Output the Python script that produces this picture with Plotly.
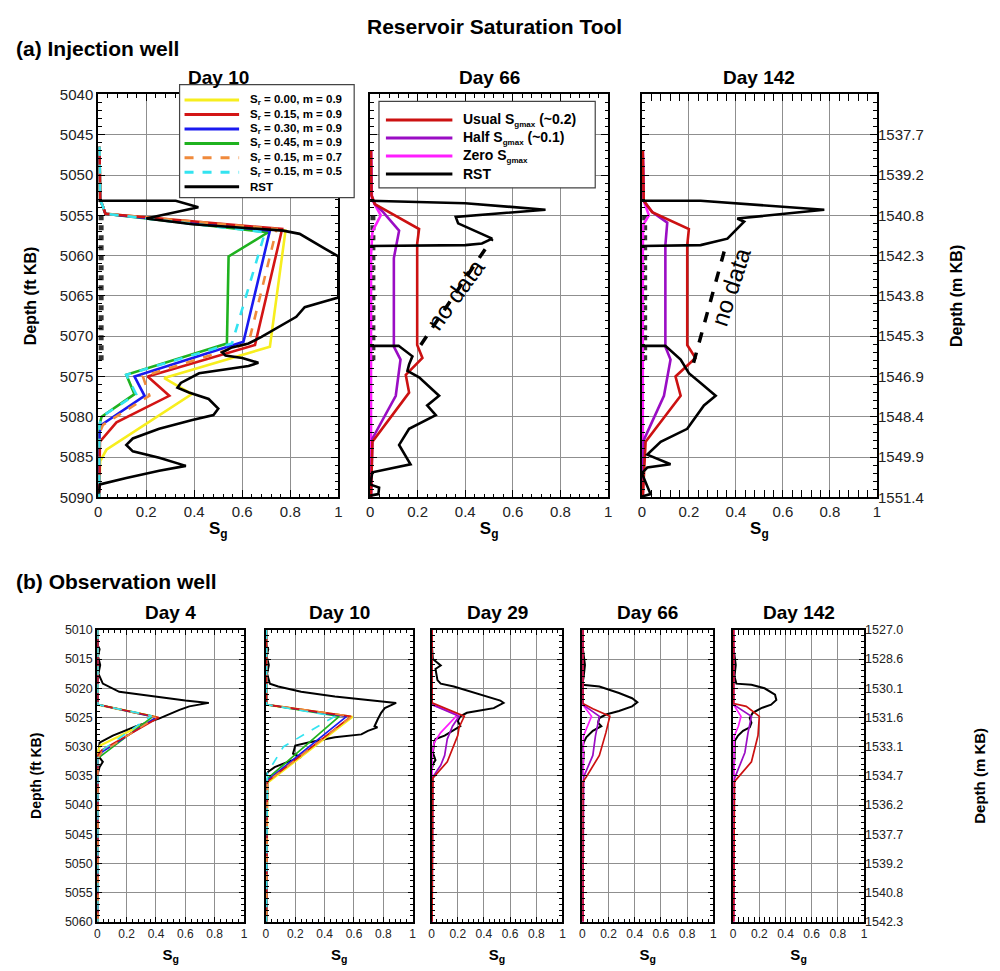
import plotly.graph_objects as go

# ---------------------------------------------------------------- data
# Injection well, Day 10: simulated Sg profiles for residual gas / m cases and RST log
inj_d10_yellow_sg = [0.005, 0.008, 0.03, 0.78, 0.715, 0.275, 0.39, 0.034, 0.008, 0.004]
inj_d10_yellow_dp = [5046.5, 5053.0, 5054.8, 5056.9, 5071.3, 5075.2, 5077.2, 5084.1, 5085.5, 5090]
inj_d10_red_sg = [0.005, 0.008, 0.03, 0.766, 0.653, 0.206, 0.296, 0.076, 0.007, 0.004]
inj_d10_red_dp = [5046.5, 5053.0, 5054.8, 5056.7, 5071.1, 5075.0, 5077.4, 5080.7, 5083.1, 5090]
inj_d10_blue_sg = [0.005, 0.008, 0.03, 0.715, 0.605, 0.151, 0.193, 0.014, 0.005, 0.004]
inj_d10_blue_dp = [5046.5, 5053.0, 5054.8, 5056.9, 5070.7, 5075.0, 5077.4, 5081.0, 5082.0, 5090]
inj_d10_green_sg = [0.005, 0.008, 0.03, 0.708, 0.543, 0.536, 0.117, 0.151, 0.014, 0.005, 0.004]
inj_d10_green_dp = [5046.5, 5053.0, 5054.8, 5057.1, 5060.1, 5070.9, 5074.8, 5077.2, 5080.0, 5081.0, 5090]
inj_d10_orange_sg = [0.005, 0.008, 0.03, 0.743, 0.626, 0.186, 0.213, 0.02, 0.005, 0.004]
inj_d10_orange_dp = [5046.5, 5053.0, 5054.8, 5056.7, 5070.9, 5075.0, 5077.4, 5081.0, 5082.0, 5090]
inj_d10_cyan_sg = [0.005, 0.008, 0.03, 0.695, 0.557, 0.117, 0.158, 0.014, 0.005, 0.004]
inj_d10_cyan_dp = [5046.5, 5053.0, 5054.8, 5057.1, 5070.9, 5074.8, 5077.2, 5080.0, 5081.0, 5090]
inj_d10_rst_sg = [0.0, 0.323, 0.417, 0.323, 0.2, 0.392, 0.77, 0.839, 0.887, 0.942, 1.0, 1.0, 0.942,
                  0.86, 0.825, 0.75, 0.68, 0.626, 0.557, 0.516, 0.53, 0.6, 0.667, 0.626, 0.53, 0.42,
                  0.344, 0.33, 0.378, 0.46, 0.5, 0.48, 0.392, 0.254, 0.144, 0.117, 0.144, 0.254,
                  0.365, 0.254, 0.117, 0.007, 0.0]
inj_d10_rst_dp = [5053.2, 5053.2, 5054.0, 5054.6, 5055.4, 5056.1, 5056.9, 5057.3, 5058.1, 5059.1,
                  5060.1, 5065.2, 5065.7, 5066.4, 5067.6, 5068.9, 5070.1, 5070.9, 5071.4, 5072.0,
                  5072.4, 5072.7, 5073.3, 5073.7, 5074.1, 5074.6, 5075.8, 5076.4, 5077.0, 5077.8,
                  5079.0, 5079.8, 5080.4, 5081.5, 5082.7, 5083.5, 5084.3, 5085.1, 5086.1, 5086.7,
                  5087.6, 5088.4, 5089.6]

# Injection well, Day 66: hysteresis cases and RST log (None = logging gap)
inj_d66_usual_sg = [0.004, 0.006, 0.02, 0.094, 0.206, 0.198, 0.198, 0.22, 0.15, 0.164, 0.01, 0.004]
inj_d66_usual_dp = [5047, 5052.5, 5053.6, 5054.8, 5056.7, 5058.5, 5071.1, 5072.7, 5074.8, 5077.0, 5083.1, 5090]
inj_d66_half_sg = [0.004, 0.006, 0.02, 0.055, 0.122, 0.1, 0.1, 0.128, 0.108, 0.01, 0.004]
inj_d66_half_dp = [5047, 5052.5, 5053.6, 5054.6, 5056.9, 5060.3, 5071.3, 5072.9, 5077.4, 5082.7, 5090]
inj_d66_zero_sg = [0.004, 0.008, 0.045, 0.01, 0.004, 0.004]
inj_d66_zero_dp = [5047, 5053.0, 5055.0, 5057.0, 5060, 5090]
inj_d66_rst_sg = [0.0, 0.4, 0.737, 0.36, 0.37, 0.513, 0.47, 0.4, 0.0, None,
                  0.0, 0.12, 0.178, 0.164, 0.157, 0.206, 0.29, 0.24, 0.276, 0.164, 0.122, 0.17,
                  0.01, 0.0, 0.038, 0.035, 0.0]
inj_d66_rst_dp = [5053.2, 5053.5, 5054.3, 5055.2, 5056.0, 5057.9, 5058.5, 5058.7, 5058.8, None,
                  5071.2, 5071.2, 5072.5, 5073.5, 5074.3, 5075.1, 5077.4, 5078.6, 5079.8, 5081.5,
                  5083.5, 5085.9, 5086.9, 5088.4, 5088.8, 5089.6, 5089.8]
inj_d66_gap_sg = [0.213, 0.513]
inj_d66_gap_dp = [5071.1, 5057.9]

# Injection well, Day 142
inj_d142_usual_sg = [0.004, 0.008, 0.044, 0.2, 0.193, 0.193, 0.228, 0.143, 0.165, 0.016, 0.004]
inj_d142_usual_dp = [5047, 5053.2, 5054.6, 5056.7, 5058.7, 5071.1, 5072.7, 5075.0, 5077.4, 5083.1, 5090]
inj_d142_half_sg = [0.004, 0.008, 0.044, 0.108, 0.1, 0.1, 0.122, 0.094, 0.008, 0.004]
inj_d142_half_dp = [5047, 5053.2, 5054.6, 5055.9, 5058.7, 5071.3, 5072.9, 5077.4, 5082.9, 5090]
inj_d142_zero_sg = [0.004, 0.008, 0.03, 0.005, 0.004, 0.004]
inj_d142_zero_dp = [5047, 5053.2, 5055.0, 5056.2, 5060, 5090]
inj_d142_rst_sg = [0.0, 0.25, 0.776, 0.406, 0.435, 0.406, 0.364, 0.25, 0.0, None,
                   0.0, 0.1, 0.165, 0.2, 0.25, 0.314, 0.264, 0.236, 0.193, 0.08, 0.023, 0.122,
                   0.023, 0.0, 0.037, 0.0]
inj_d142_rst_dp = [5053.2, 5053.2, 5054.3, 5055.4, 5055.8, 5056.7, 5057.9, 5058.7, 5058.8, None,
                   5071.2, 5071.2, 5072.9, 5074.6, 5075.8, 5077.4, 5078.6, 5079.8, 5081.5, 5083.1,
                   5084.7, 5085.9, 5086.3, 5087.0, 5089.6, 5089.9]
inj_d142_gap_sg = [0.22, 0.35]
inj_d142_gap_dp = [5073.3, 5059.5]

# Near-zero RST readings across the logging gap
inj_lowrst_sg = [0.012, 0.012]
inj_lowrst_dp = [5055.0, 5073.0]

# Observation well, Day 4
obs_d4_yellow_sg = [0.004, 0.004, 0.41, 0.02, 0.004, 0.004]
obs_d4_yellow_dp = [5010, 5022.8, 5025.0, 5029.8, 5031.0, 5060]
obs_d4_red_sg = [0.004, 0.004, 0.42, 0.03, 0.004, 0.004]
obs_d4_red_dp = [5010, 5022.8, 5025.0, 5030.6, 5031.5, 5060]
obs_d4_blue_sg = [0.004, 0.004, 0.40, 0.04, 0.004, 0.004]
obs_d4_blue_dp = [5010, 5022.8, 5025.0, 5030.8, 5031.8, 5060]
obs_d4_green_sg = [0.004, 0.004, 0.38, 0.05, 0.004, 0.004]
obs_d4_green_dp = [5010, 5022.8, 5024.8, 5031.0, 5032.0, 5060]
obs_d4_orange_sg = [0.004, 0.004, 0.40, 0.03, 0.004, 0.004]
obs_d4_orange_dp = [5010, 5022.8, 5025.0, 5031.0, 5032.0, 5060]
obs_d4_cyan_sg = [0.004, 0.004, 0.37, 0.04, 0.004, 0.004]
obs_d4_cyan_dp = [5010, 5022.8, 5024.7, 5030.5, 5031.5, 5060]
obs_d4_rst_sg = [0.0, 0.016, 0.005, 0.02, 0.008, 0.038, 0.15, 0.378, 0.6, 0.76, 0.627, 0.56, 0.49,
                 0.42, 0.265, 0.106, 0.016, 0.005, 0.038, 0.016, 0.0, 0.0]
obs_d4_rst_dp = [5012.5, 5013.3, 5014.5, 5016.0, 5017.5, 5019.2, 5020.6, 5021.4, 5022.1, 5022.5,
                 5023.1, 5023.7, 5024.5, 5025.2, 5026.5, 5028.1, 5029.3, 5031.5, 5032.6, 5033.5,
                 5034.9, 5036.0]

# Observation well, Day 10
obs_d10_yellow_sg = [0.004, 0.004, 0.59, 0.01, 0.004]
obs_d10_yellow_dp = [5010, 5022.8, 5024.9, 5036.2, 5060]
obs_d10_red_sg = [0.004, 0.004, 0.58, 0.01, 0.004]
obs_d10_red_dp = [5010, 5022.8, 5024.8, 5036.0, 5060]
obs_d10_blue_sg = [0.004, 0.004, 0.55, 0.01, 0.004]
obs_d10_blue_dp = [5010, 5022.8, 5024.8, 5035.8, 5060]
obs_d10_green_sg = [0.004, 0.004, 0.50, 0.01, 0.004]
obs_d10_green_dp = [5010, 5022.8, 5024.8, 5035.5, 5060]
obs_d10_orange_sg = [0.004, 0.004, 0.585, 0.01, 0.004]
obs_d10_orange_dp = [5010, 5022.8, 5024.8, 5036.0, 5060]
obs_d10_cyan_sg = [0.004, 0.004, 0.47, 0.12, 0.01, 0.004]
obs_d10_cyan_dp = [5010, 5022.8, 5024.8, 5030.0, 5034.5, 5060]
obs_d10_rst_sg = [0.0, 0.016, 0.005, 0.02, 0.008, 0.027, 0.084, 0.24, 0.47, 0.69, 0.887, 0.81, 0.785,
                  0.762, 0.74, 0.76, 0.695, 0.65, 0.47, 0.29, 0.2, 0.185, 0.24, 0.15, 0.06, 0.016, 0.0]
obs_d10_rst_dp = [5012.5, 5013.3, 5014.5, 5016.0, 5017.5, 5019.2, 5019.7, 5020.6, 5021.4, 5022.0,
                  5022.5, 5023.4, 5024.2, 5025.3, 5026.5, 5026.7, 5027.3, 5027.9, 5028.4, 5029.3,
                  5029.8, 5031.2, 5031.8, 5032.6, 5033.5, 5034.3, 5034.9]

# Observation well, Day 29
obs_d29_usual_sg = [0.004, 0.004, 0.25, 0.21, 0.2, 0.12, 0.01, 0.004]
obs_d29_usual_dp = [5010, 5022.5, 5024.8, 5026.7, 5028.1, 5032.6, 5035.4, 5060]
obs_d29_half_sg = [0.004, 0.004, 0.21, 0.16, 0.12, 0.1, 0.07, 0.01, 0.004]
obs_d29_half_dp = [5010, 5022.8, 5024.8, 5026.5, 5028.7, 5031.5, 5033.2, 5035.2, 5060]
obs_d29_zero_sg = [0.004, 0.004, 0.2, 0.07, 0.02, 0.004, 0.004]
obs_d29_zero_dp = [5010, 5022.8, 5024.5, 5027.6, 5029.3, 5031.5, 5060]
obs_d29_rst_sg = [0.0, 0.01, 0.07, 0.03, 0.045, 0.07, 0.17, 0.3, 0.42, 0.525, 0.55, 0.475, 0.37, 0.27,
                  0.22, 0.2, 0.22, 0.16, 0.1, 0.03, 0.02, 0.01, 0.03, 0.01, 0.0]
obs_d29_rst_dp = [5012.0, 5015.0, 5016.1, 5016.7, 5018.6, 5019.2, 5019.7, 5020.6, 5021.4, 5022.1,
                  5022.5, 5023.4, 5023.8, 5024.2, 5024.8, 5025.6, 5026.5, 5027.3, 5028.1, 5028.7,
                  5029.3, 5031.0, 5032.3, 5033.0, 5034.0]

# Observation well, Day 66
obs_d66_usual_sg = [0.004, 0.004, 0.08, 0.21, 0.18, 0.13, 0.03, 0.004, 0.004]
obs_d66_usual_dp = [5010, 5022.6, 5023.5, 5024.8, 5027.6, 5031.5, 5035.2, 5036.0, 5060]
obs_d66_half_sg = [0.004, 0.004, 0.13, 0.1, 0.08, 0.01, 0.004]
obs_d66_half_dp = [5010, 5022.8, 5024.8, 5028.2, 5031.5, 5035.2, 5060]
obs_d66_zero_sg = [0.004, 0.004, 0.07, 0.04, 0.008, 0.004]
obs_d66_zero_dp = [5010, 5022.8, 5024.8, 5026.5, 5028.2, 5060]
obs_d66_rst_sg = [0.0, 0.01, 0.02, 0.01, 0.0, 0.13, 0.28, 0.38, 0.42, 0.38, 0.28, 0.18, 0.13, 0.12,
                  0.145, 0.08, 0.03, 0.01, 0.0, 0.01, 0.0]
obs_d66_rst_dp = [5012.5, 5014.0, 5016.0, 5018.0, 5019.4, 5019.7, 5020.8, 5021.7, 5022.4, 5023.1,
                  5023.9, 5024.5, 5025.1, 5025.9, 5026.5, 5027.3, 5028.4, 5029.3, 5030.3, 5031.0, 5035.0]

# Observation well, Day 142
obs_d142_usual_sg = [0.004, 0.004, 0.1, 0.2, 0.19, 0.14, 0.01, 0.004]
obs_d142_usual_dp = [5010, 5022.6, 5023.1, 5024.8, 5028.1, 5032.6, 5036.0, 5060]
obs_d142_half_sg = [0.004, 0.004, 0.14, 0.114, 0.09, 0.01, 0.004]
obs_d142_half_dp = [5010, 5022.8, 5024.8, 5027.6, 5031.0, 5035.5, 5060]
obs_d142_zero_sg = [0.004, 0.004, 0.06, 0.04, 0.008, 0.004]
obs_d142_zero_dp = [5010, 5022.8, 5024.8, 5026.5, 5028.2, 5060]
obs_d142_rst_sg = [0.0, 0.01, 0.02, 0.01, 0.025, 0.14, 0.24, 0.32, 0.33, 0.29, 0.215, 0.15, 0.127,
                   0.14, 0.127, 0.076, 0.038, 0.013, 0.01, 0.0]
obs_d142_rst_dp = [5012.5, 5014.0, 5016.0, 5018.0, 5019.2, 5019.4, 5020.0, 5021.1, 5022.0, 5022.8,
                   5023.4, 5024.2, 5025.1, 5025.9, 5026.7, 5027.3, 5028.1, 5029.0, 5032.0, 5035.0]

# Axis ticks and labels
sg_ticks = [0, 0.2, 0.4, 0.6, 0.8, 1]
sg_ticklabels = ["0", "0.2", "0.4", "0.6", "0.8", "1"]
inj_depth_ticks = [5040, 5045, 5050, 5055, 5060, 5065, 5070, 5075, 5080, 5085, 5090]
inj_metric_ticks = [5045, 5050, 5055, 5060, 5065, 5070, 5075, 5080, 5085, 5090]
inj_metric_labels = ["1537.7", "1539.2", "1540.8", "1542.3", "1543.8", "1545.3", "1546.9",
                     "1548.4", "1549.9", "1551.4"]
obs_depth_ticks = [5010, 5015, 5020, 5025, 5030, 5035, 5040, 5045, 5050, 5055, 5060]
obs_metric_labels = ["1527.0", "1528.6", "1530.1", "1531.6", "1533.1", "1534.7", "1536.2",
                     "1537.7", "1539.2", "1540.8", "1542.3"]

inj_days = ["Day 10", "Day 66", "Day 142"]
obs_days = ["Day 4", "Day 10", "Day 29", "Day 66", "Day 142"]

SUB_R = "<sub>r</sub>"
SUB_GMAX = "<sub><span style='font-size:8px'>gmax</span></sub>"
case_labels = ["S" + SUB_R + " = 0.00, m = 0.9", "S" + SUB_R + " = 0.15, m = 0.9",
               "S" + SUB_R + " = 0.30, m = 0.9", "S" + SUB_R + " = 0.45, m = 0.9",
               "S" + SUB_R + " = 0.15, m = 0.7", "S" + SUB_R + " = 0.15, m = 0.5", "RST"]
hyst_labels = ["Usual S" + SUB_GMAX + " (~0.2)", "Half S" + SUB_GMAX + " (~0.1)",
               "Zero S" + SUB_GMAX, "RST"]

# ---------------------------------------------------------------- styling
FONT = "Liberation Sans, Arial, sans-serif"
YELLOW, RED, BLUE, GREEN = "#F7EE1E", "#D31515", "#1A1AF0", "#1FB21F"
ORANGE, CYAN, BLACK = "#F08A3C", "#33E3F0", "#000000"
HRED, PURPLE, MAGENTA = "#CC1111", "#9A0DC4", "#FF1EFF"

case_styles = [(YELLOW, None), (RED, None), (BLUE, None), (GREEN, None),
               (ORANGE, "dash"), (CYAN, "dash"), (BLACK, None)]
hyst_styles = [(HRED, None), (PURPLE, None), (MAGENTA, None), (BLACK, None)]

W, H = 1000, 971


def fx(p):
    return p / W


def fy(p):
    return 1 - p / H


top_cols = [(95, 337), (369, 609), (643, 880)]
bot_cols = [(94, 242), (264, 412), (431, 563), (583, 715), (735, 867)]
top_rows = (87, 497)
bot_rows = (632, 929)

fig = go.Figure()


def line(ax, sg, dp, color, width, dash=None):
    fig.add_trace(go.Scatter(
        x=sg, y=dp, mode="lines", xaxis="x" + ("" if ax == 1 else str(ax)),
        yaxis="y" + ("" if ax == 1 else str(ax)),
        line=dict(color=color, width=width, dash=dash, shape="linear"),
        showlegend=False, hoverinfo="skip", connectgaps=False))


# --- injection well panels
tw = 2.6
line(1, inj_lowrst_sg, inj_lowrst_dp, "#333333", 5, "dot")
line(1, inj_d10_yellow_sg, inj_d10_yellow_dp, YELLOW, tw)
line(1, inj_d10_green_sg, inj_d10_green_dp, GREEN, tw)
line(1, inj_d10_blue_sg, inj_d10_blue_dp, BLUE, tw)
line(1, inj_d10_red_sg, inj_d10_red_dp, RED, tw)
line(1, inj_d10_orange_sg, inj_d10_orange_dp, ORANGE, tw, "dash")
line(1, inj_d10_cyan_sg, inj_d10_cyan_dp, CYAN, tw, "dash")
line(1, inj_d10_rst_sg, inj_d10_rst_dp, BLACK, tw)

line(2, inj_lowrst_sg, inj_lowrst_dp, "#333333", 5, "dot")
line(2, inj_d66_zero_sg, inj_d66_zero_dp, MAGENTA, tw)
line(2, inj_d66_half_sg, inj_d66_half_dp, PURPLE, tw)
line(2, inj_d66_usual_sg, inj_d66_usual_dp, HRED, tw)
line(2, inj_d66_rst_sg, inj_d66_rst_dp, BLACK, tw)
line(2, inj_d66_gap_sg, inj_d66_gap_dp, BLACK, 3.5, "dash")

line(3, inj_lowrst_sg, inj_lowrst_dp, "#333333", 5, "dot")
line(3, inj_d142_zero_sg, inj_d142_zero_dp, MAGENTA, tw)
line(3, inj_d142_half_sg, inj_d142_half_dp, PURPLE, tw)
line(3, inj_d142_usual_sg, inj_d142_usual_dp, HRED, tw)
line(3, inj_d142_rst_sg, inj_d142_rst_dp, BLACK, tw)
line(3, inj_d142_gap_sg, inj_d142_gap_dp, BLACK, 3.5, "dash")

# --- observation well panels
bw = 1.7
for ax, (ys, yd, gs, gd, bs, bd, rs, rd, os_, od, cs, cd, ks, kd) in zip(
        [4, 5],
        [(obs_d4_yellow_sg, obs_d4_yellow_dp, obs_d4_green_sg, obs_d4_green_dp,
          obs_d4_blue_sg, obs_d4_blue_dp, obs_d4_red_sg, obs_d4_red_dp,
          obs_d4_orange_sg, obs_d4_orange_dp, obs_d4_cyan_sg, obs_d4_cyan_dp,
          obs_d4_rst_sg, obs_d4_rst_dp),
         (obs_d10_yellow_sg, obs_d10_yellow_dp, obs_d10_green_sg, obs_d10_green_dp,
          obs_d10_blue_sg, obs_d10_blue_dp, obs_d10_red_sg, obs_d10_red_dp,
          obs_d10_orange_sg, obs_d10_orange_dp, obs_d10_cyan_sg, obs_d10_cyan_dp,
          obs_d10_rst_sg, obs_d10_rst_dp)]):
    line(ax, ks, kd, BLACK, 2.0)
    line(ax, ys, yd, YELLOW, bw + 0.6)
    line(ax, gs, gd, GREEN, bw)
    line(ax, bs, bd, BLUE, bw)
    line(ax, rs, rd, RED, bw)
    line(ax, os_, od, ORANGE, bw, "dash")
    line(ax, cs, cd, CYAN, bw, "dash")

for ax, (zs, zd, hs, hd, us, ud, ks, kd) in zip(
        [6, 7, 8],
        [(obs_d29_zero_sg, obs_d29_zero_dp, obs_d29_half_sg, obs_d29_half_dp,
          obs_d29_usual_sg, obs_d29_usual_dp, obs_d29_rst_sg, obs_d29_rst_dp),
         (obs_d66_zero_sg, obs_d66_zero_dp, obs_d66_half_sg, obs_d66_half_dp,
          obs_d66_usual_sg, obs_d66_usual_dp, obs_d66_rst_sg, obs_d66_rst_dp),
         (obs_d142_zero_sg, obs_d142_zero_dp, obs_d142_half_sg, obs_d142_half_dp,
          obs_d142_usual_sg, obs_d142_usual_dp, obs_d142_rst_sg, obs_d142_rst_dp)]):
    line(ax, ks, kd, BLACK, 2.0)
    line(ax, zs, zd, MAGENTA, bw)
    line(ax, hs, hd, PURPLE, bw)
    line(ax, us, ud, HRED, bw)

# placeholders so the metric-depth axes are drawn
for ax_x, ax_y in (("x3", "y9"), ("x8", "y10")):
    fig.add_trace(go.Scatter(x=[None], y=[None], xaxis=ax_x, yaxis=ax_y,
                             showlegend=False, hoverinfo="skip"))

# ---------------------------------------------------------------- axes
layout = dict(width=W, height=H, margin=dict(l=0, r=0, t=0, b=0),
              paper_bgcolor="white", plot_bgcolor="white",
              font=dict(family=FONT, color="#000"), showlegend=False)


def xaxis(cols, yname, big):
    return dict(domain=[fx(cols[0]), fx(cols[1])], anchor=yname, range=[0, 1],
                tickvals=sg_ticks, ticktext=sg_ticklabels,
                ticks="inside", ticklen=7 if big else 5, tickwidth=1.4, tickcolor="black",
                showline=True, linecolor="black", linewidth=2, mirror="allticks",
                showgrid=True, gridcolor="#8f8f8f", gridwidth=1.3, zeroline=False,
                minor=dict(dtick=0.04, ticks="inside", ticklen=3.5 if big else 3,
                           tickcolor="black", tickwidth=1, showgrid=False),
                tickfont=dict(size=15 if big else 12, color="#222"),
                title=dict(text="<b>S<sub>g</sub></b>", font=dict(size=17 if big else 15),
                           standoff=3 if big else 9),
                fixedrange=True)


def yaxis(rows, xname, rng, ticks, labels_on, big, title=None):
    d = dict(domain=[fy(rows[1]), fy(rows[0])], anchor=xname, range=rng,
             tickvals=ticks, showticklabels=labels_on,
             ticks="inside", ticklen=7 if big else 5, tickwidth=1.4, tickcolor="black",
             showline=True, linecolor="black", linewidth=2, mirror="allticks",
             showgrid=True, gridcolor="#8f8f8f", gridwidth=1.3, zeroline=False,
             minor=dict(dtick=1, ticks="inside", ticklen=3.5 if big else 3,
                        tickcolor="black", tickwidth=1, showgrid=False),
             tickfont=dict(size=15 if big else 12.5, color="#222"),
             fixedrange=True)
    if title:
        d["title"] = dict(text=title, font=dict(size=16 if big else 14),
                          standoff=19 if big else 20)
    return d


for i, cols in enumerate(top_cols):
    n = i + 1
    suf = "" if n == 1 else str(n)
    layout["xaxis" + suf] = xaxis(cols, "y" + suf, True)
    layout["yaxis" + suf] = yaxis(top_rows, "x" + suf, [5090, 5040], inj_depth_ticks, n == 1, True,
                                  "<b>Depth (ft KB)</b>" if n == 1 else None)
for i, cols in enumerate(bot_cols):
    n = i + 4
    layout["xaxis%d" % n] = xaxis(cols, "y%d" % n, False)
    layout["yaxis%d" % n] = yaxis(bot_rows, "x%d" % n, [5060, 5010], obs_depth_ticks, n == 4, False,
                                  "<b>Depth (ft KB)</b>" if n == 4 else None)

layout["yaxis9"] = dict(overlaying="y3", anchor="x3", side="right", range=[5090, 5040],
                        tickvals=inj_metric_ticks, ticktext=inj_metric_labels, ticks="",
                        showgrid=False, zeroline=False, showline=False,
                        tickfont=dict(size=15, color="#222"), fixedrange=True,
                        title=dict(text="<b>Depth (m KB)</b>", font=dict(size=16), standoff=27))
layout["yaxis10"] = dict(overlaying="y8", anchor="x8", side="right", range=[5060, 5010],
                         tickvals=obs_depth_ticks, ticktext=obs_metric_labels, ticks="",
                         showgrid=False, zeroline=False, showline=False,
                         tickfont=dict(size=12.5, color="#222"), fixedrange=True,
                         title=dict(text="<b>Depth (m KB)</b>", font=dict(size=15), standoff=72))

# ---------------------------------------------------------------- text
ann = []


def text(x, y, s, size, bold=True, xanchor="center", yanchor="middle", angle=0, **kw):
    ann.append(dict(x=x, y=y, xref=kw.pop("xref", "paper"), yref=kw.pop("yref", "paper"),
                    text="<b>%s</b>" % s if bold else s, showarrow=False,
                    xanchor=xanchor, yanchor=yanchor, textangle=angle,
                    font=dict(size=size, family=FONT, color="#000"), **kw))


text(fx(494), fy(18), "Reservoir Saturation Tool", 21)
text(fx(10), fy(40), "(a) Injection well", 21, xanchor="left")
text(fx(10), fy(583), "(b) Observation well", 21, xanchor="left")
for name, (a, b) in zip(inj_days, top_cols):
    text(fx((a + b) / 2), fy(70), name, 19)
for name, (a, b) in zip(obs_days, bot_cols):
    text(fx((a + b) / 2), fy(614), name, 19)

text(0.358, 5064.8, "no data", 24, bold=False, angle=-54, xref="x2", yref="y2")
text(0.378, 5063.8, "no data", 24, bold=False, angle=-72, xref="x3", yref="y3")

# legend for the residual-gas cases (Day 10 panel)
shapes = []
shapes.append(dict(type="rect", xref="paper", yref="paper", x0=fx(177), x1=fx(353),
                   y0=fy(192), y1=fy(77), fillcolor="white", line=dict(color="#444", width=1.2),
                   layer="above"))
for k, (lab, (col, dash)) in enumerate(zip(case_labels, case_styles)):
    yy = 92.7 + 14.7 * k
    shapes.append(dict(type="line", xref="paper", yref="paper", x0=fx(182), x1=fx(237),
                       y0=fy(yy), y1=fy(yy), line=dict(color=col, width=3, dash=dash), layer="above"))
    text(fx(246), fy(yy), lab, 11.5, xanchor="left")

# legend for the hysteresis cases (Day 66 panel)
shapes.append(dict(type="rect", xref="paper", yref="paper", x0=fx(378), x1=fx(596),
                   y0=fy(182), y1=fy(94), fillcolor="white", line=dict(color="#444", width=1.2),
                   layer="above"))
for k, (lab, (col, dash)) in enumerate(zip(hyst_labels, hyst_styles)):
    yy = 113 + 18.3 * k
    shapes.append(dict(type="line", xref="paper", yref="paper", x0=fx(385), x1=fx(452),
                       y0=fy(yy), y1=fy(yy), line=dict(color=col, width=3, dash=dash), layer="above"))
    text(fx(461), fy(yy), lab, 14, xanchor="left")

layout["annotations"] = ann
layout["shapes"] = shapes
fig.update_layout(**layout)
fig.write_html("out.html")
